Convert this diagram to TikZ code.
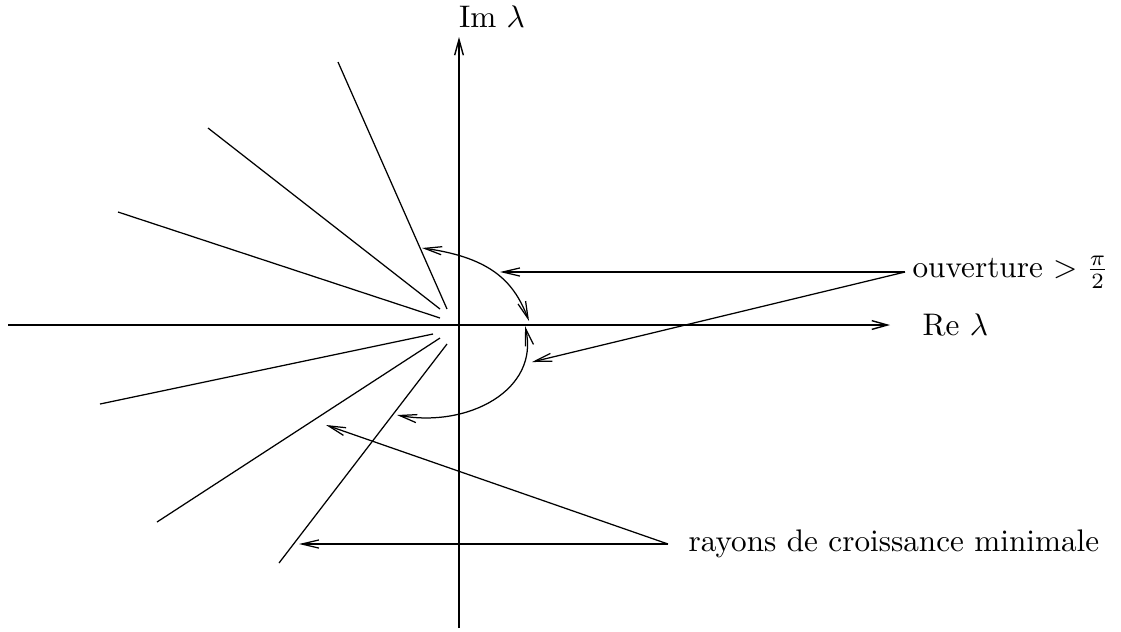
\documentclass[tikz,border=0pt]{standalone}
\usetikzlibrary{arrows.meta}
\begin{document}
\begin{tikzpicture}[x=0.3205pt,y=-0.3205pt,
  axis/.style={line width=0.75pt,-{Straight Barb[length=5pt,width=2.8pt,line width=0.45pt]}},
  ray/.style={line width=0.4pt},
  pointer/.style={line width=0.4pt,-{Straight Barb[length=5.5pt,width=2.6pt]}},
  arcarrow/.style={line width=0.4pt,{Straight Barb[length=5.5pt,width=2.6pt]}-{Straight Barb[length=5.5pt,width=2.6pt]}},
  lbl/.style={inner sep=0pt,anchor=west}]
\useasboundingbox (0,0) rectangle (1121,631);
% axes
\coordinate (ybot) at (459,628);
\coordinate (ytop) at (459,37);
\coordinate (xl) at (8,325);
\coordinate (xr) at (890,325);
\draw[axis] (ybot) -- (ytop);
\draw[axis] (xl) -- (xr);
\node[lbl] (re) at (922,325) {Re $\lambda$};
\node[inner sep=0pt] (im) at (492,17) {Im $\lambda$};
% rays
\coordinate (r1a) at (338,62);  \coordinate (r1b) at (447,309);
\coordinate (r2a) at (208,128); \coordinate (r2b) at (440,309);
\coordinate (r3a) at (118,212); \coordinate (r3b) at (440,318);
\coordinate (r4a) at (100,404); \coordinate (r4b) at (433,334);
\coordinate (r5a) at (157,522); \coordinate (r5b) at (440,338);
\coordinate (r6a) at (279,563); \coordinate (r6b) at (447,344);
\foreach \i in {1,...,6}{\draw[ray] (r\i a) -- (r\i b);}
% arcs
\coordinate (a1s) at (422,248);
\coordinate (a1e) at (529,321);
\coordinate (a2s) at (525,326);
\coordinate (a2e) at (397,415);
\draw[arcarrow] (a1s) .. controls (495,258) and (515,285) .. (a1e);
\draw[arcarrow] (a2s) .. controls (540,390) and (468,428) .. (a2e);
% labels and pointers
\node[lbl] (ouv) at (912,272) {ouverture $>\frac{\pi}{2}$};
\coordinate (ouvp) at (905,272);
\coordinate (t1) at (500,272);
\coordinate (t2) at (532,362);
\draw[pointer] (ouvp) -- (t1);
\draw[pointer] (ouvp) -- (t2);
\node[lbl] (ray) at (688,544) {rayons de croissance minimale};
\coordinate (rayp) at (668,544);
\coordinate (t3) at (326,425);
\coordinate (t4) at (299,544);
\draw[pointer] (rayp) -- (t3);
\draw[pointer] (rayp) -- (t4);
\end{tikzpicture}
\end{document}
